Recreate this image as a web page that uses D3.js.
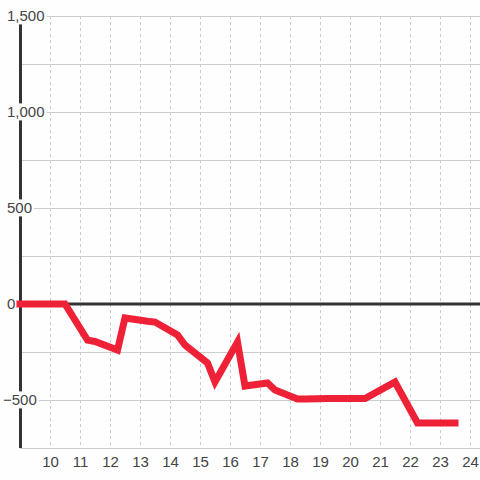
<!DOCTYPE html>
<html><head><meta charset="utf-8">
<script src="https://cdn.jsdelivr.net/npm/d3@7"></script>
<style>
html,body{margin:0;padding:0;background:#fdfefd;}
svg{display:block;}
text{font-family:"Liberation Sans",Arial,sans-serif;}
</style></head>
<body>
<script>
const xValues = [9, 10.5, 11.25, 11.5, 12.25, 12.5, 13.25, 13.5, 14.25, 14.5, 15.25, 15.5, 16.25, 16.5, 17.25, 17.5, 18.25, 18.5, 19.25, 19.5, 20.25, 20.5, 21.25, 21.5, 22.25, 22.5, 23.25, 23.5];
const yValues = [0, 0, -188, -195, -240, -73, -90, -94, -161, -214, -307, -406, -198, -427, -411, -448, -495, -495, -492, -492, -492, -492, -428, -406, -620, -620, -620, -620];
const xTicks = [10, 11, 12, 13, 14, 15, 16, 17, 18, 19, 20, 21, 22, 23, 24];
const yGrid = [-750, -500, -250, 0, 250, 500, 750, 1000, 1250, 1500];
const yLabels = [1500, 1000, 500, 0, -500];

const W = 480, H = 480;
const svg = d3.select("body").append("svg").attr("width", W).attr("height", H);
const x = d3.scaleLinear().domain([9, 24]).range([20, 470]);
const y = d3.scaleLinear().domain([-750, 1500]).range([448, 16]);

// horizontal gridlines
svg.append("g").selectAll("line").data(yGrid).join("line")
  .attr("x1", x(9)).attr("x2", W)
  .attr("y1", d => y(d)).attr("y2", d => y(d))
  .attr("stroke", "#cccccc").attr("stroke-width", 1)
  .attr("shape-rendering", "crispEdges");

// vertical dashed gridlines
svg.append("g").selectAll("line").data(xTicks).join("line")
  .attr("x1", d => x(d) + 0.5).attr("x2", d => x(d) + 0.5)
  .attr("y1", y(1500)).attr("y2", y(-750))
  .attr("stroke", "#cccccc").attr("stroke-width", 1)
  .attr("stroke-dasharray", "3,3");

// zero line
svg.append("line")
  .attr("x1", x(9)).attr("x2", W)
  .attr("y1", y(0)).attr("y2", y(0))
  .attr("stroke", "#333333").attr("stroke-width", 3);

// y axis line
svg.append("line")
  .attr("x1", x(9)+0.5).attr("x2", x(9)+0.5)
  .attr("y1", y(1500)).attr("y2", y(-750))
  .attr("stroke", "#333333").attr("stroke-width", 3);

// y labels with background
const fmt = d3.format(",");
const lg = svg.append("g").selectAll("g").data(yLabels).join("g");
lg.each(function(d) {
  const g = d3.select(this);
  const t = g.append("text")
    .attr("x", d < 0 ? 3 : 7)
    .attr("y", y(d))
    .attr("dy", "0.36em")
    .attr("font-size", 15)
    .attr("fill", "#444")
    .text(fmt(d));
  const b = t.node().getBBox();
  if (d !== 0) {
    g.insert("rect", "text")
      .attr("x", b.x - 1).attr("y", b.y)
      .attr("width", b.width + 3).attr("height", b.height)
      .attr("fill", "#fdfefd");
  }
});

// x tick labels
svg.append("g").selectAll("text").data(xTicks).join("text")
  .attr("x", d => x(d) + 0.5).attr("y", 467)
  .attr("text-anchor", "middle")
  .attr("font-size", 15)
  .attr("fill", "#444")
  .text(d => d);

// data line
const data = xValues.map((v, i) => [v, yValues[i]]);
svg.append("path").datum(data)
  .attr("d", d3.line().x(d => x(d[0])).y(d => y(d[1])))
  .attr("fill", "none")
  .attr("stroke", "#ee2137")
  .attr("stroke-width", 7)
  .attr("stroke-linecap", "square")
  .attr("stroke-linejoin", "miter");
</script>
</body></html>
